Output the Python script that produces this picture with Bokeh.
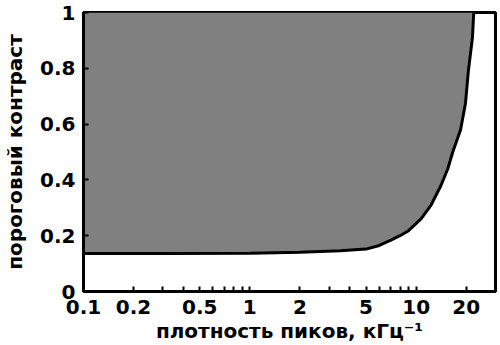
from bokeh.plotting import figure
from bokeh.models import FixedTicker, Range1d
from bokeh.embed import file_html
from bokeh.resources import INLINE

# data
density = [0.1, 0.3, 1.0, 2.0, 3.5, 5.0, 6.0, 7.0, 8.0, 9.0, 10.7, 12.3, 14.1,
           15.5, 16.6, 18.5, 19.8, 20.6, 21.8, 22.2]
threshold = [0.136, 0.136, 0.137, 0.141, 0.146, 0.152, 0.165, 0.183, 0.200,
             0.218, 0.26, 0.31, 0.38, 0.44, 0.50, 0.58, 0.675, 0.79, 0.91, 1.0]
top = [1.0] * len(density)

x_ticks = [0.1, 0.2, 0.5, 1, 2, 5, 10, 20]
x_tick_labels = ["0.1", "0.2", "0.5", "1", "2", "5", "10", "20"]
x_minor = [0.3, 0.4, 0.6, 0.7, 0.8, 0.9, 3, 4, 6, 7, 8, 9]
y_ticks = [0, 0.2, 0.4, 0.6, 0.8, 1]
y_tick_labels = ["0", "0.2", "0.4", "0.6", "0.8", "1"]

FONT = "DejaVu Sans"

p = figure(width=500, height=345, x_axis_type="log",
           x_range=Range1d(0.1, 30), y_range=Range1d(0, 1),
           output_backend="svg", toolbar_location=None,
           min_border_left=78, min_border_right=5, min_border_top=12,
           min_border_bottom=54)

p.grid.visible = False
p.outline_line_color = "black"
p.outline_line_width = 3
p.background_fill_color = "white"
p.border_fill_color = "white"

# shaded region (checkerboard in the original, rendered as 50% grey)
p.varea(x=density, y1=threshold, y2=top, fill_color="#808080")
p.line(x=density, y=threshold, line_color="black", line_width=3)

for ax in (p.xaxis[0], p.yaxis[0]):
    ax.axis_line_width = 3
    ax.axis_line_color = "black"
    ax.major_tick_in = 5
    ax.major_tick_out = 0
    ax.major_tick_line_width = 2
    ax.minor_tick_in = 5
    ax.minor_tick_out = 0
    ax.minor_tick_line_width = 2
    ax.major_label_text_font = FONT
    ax.major_label_text_font_style = "bold"
    ax.major_label_text_font_size = "20px"
    ax.major_label_text_color = "black"
    ax.axis_label_text_font = FONT
    ax.axis_label_text_font_style = "bold"
    ax.axis_label_text_font_size = "20px"
    ax.axis_label_text_color = "black"

p.xaxis.ticker = FixedTicker(ticks=x_ticks, minor_ticks=x_minor)
p.xaxis.major_label_overrides = dict(zip(x_ticks, x_tick_labels))
p.xaxis.major_label_standoff = 8
p.xaxis.axis_label = "плотность пиков, кГц⁻¹"
p.xaxis.axis_label_standoff = 2

p.yaxis.ticker = FixedTicker(ticks=y_ticks, minor_ticks=[])
p.yaxis.major_label_overrides = dict(zip(y_ticks, y_tick_labels))
p.yaxis.major_label_standoff = 8
p.yaxis.axis_label = "пороговый контраст"
p.yaxis.axis_label_standoff = 10

open("out.html", "w").write(file_html(p, INLINE))
